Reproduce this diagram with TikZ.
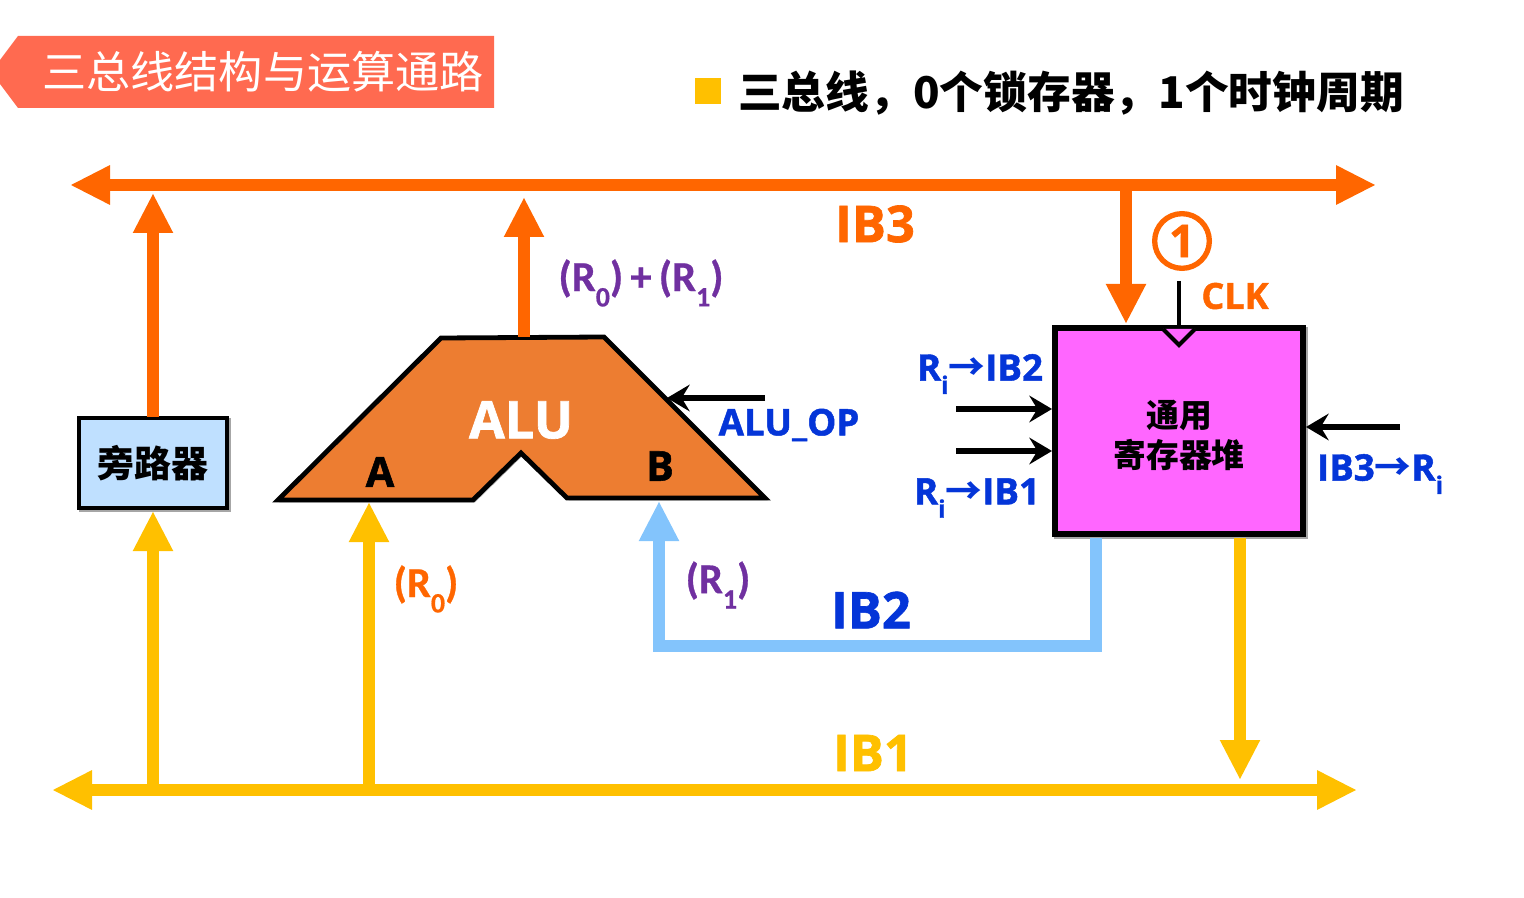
\documentclass[tikz,border=0pt]{standalone}
\usepackage{fontspec}
\usetikzlibrary{arrows.meta}
\setmainfont{Open Sans}[BoldFeatures={FakeBold=1.3}]
\newfontfamily\cjk{Noto Sans CJK SC}
\newfontfamily\carl{Carlito}[BoldFeatures={FakeBold=0.6}]
\newcommand{\cjkb}{\cjk\bfseries}
\newcommand{\osb}{\rmfamily\bfseries}
\newcommand{\ossb}{\carl\bfseries}
\newcommand{\arr}{{\cjk\bfseries →}}
\definecolor{cO}{HTML}{FF6600}
\definecolor{cY}{HTML}{FFC000}
\definecolor{cB}{HTML}{83C4FC}
\definecolor{cT}{HTML}{FF6A50}
\definecolor{cA}{HTML}{ED7D31}
\definecolor{cM}{HTML}{FF66FF}
\definecolor{cR}{HTML}{BFE0FF}
\definecolor{cN}{HTML}{0435D8}
\definecolor{cP}{HTML}{7030A0}
\newcommand{\Fs}[2]{\fontsize{#1}{#2}\selectfont}
\newcommand{\lo}[2]{\raisebox{-0.36em}{\Fs{#1}{#1}#2}}
\tikzset{
  x=0.75pt,y=-0.75pt,
  bus/.style={line width=9.5pt,draw=#1,{Triangle[length=30pt,width=27.5pt,fill=#1]}-{Triangle[length=30pt,width=27.5pt,fill=#1]}},
  wire/.style={line width=9pt,draw=#1,-{Triangle[length=30pt,width=28pt,fill=#1]}},
  sig/.style={line width=3.8pt,draw=black,-{Stealth[length=17pt,width=20pt,inset=6pt]}},
  shade/.style={preaction={draw=black!35,transform canvas={shift={(1.5pt,-1.5pt)}}}},
  outline/.style={draw=black,line width=3.6pt,line join=miter},
  lab/.style={inner sep=0pt,anchor=center},
}
\begin{document}
\begin{tikzpicture}
\useasboundingbox (0,0) rectangle (1524,898);
% title
\fill[cT] (0,60) -- (18,36) -- (494,36) -- (494,108) -- (18,108) -- (0,84) -- cycle;
\node[inner sep=0pt,text=white,font=\cjk\Fs{33.1pt}{36pt}] (title) at (263,72) {三总线结构与运算通路};
\node[fill=cY,minimum width=19pt,minimum height=19pt,inner sep=0pt] (bullet) at (708,91) {};
\node[lab,font=\cjkb\Fs{32.8pt}{36pt}] (head) at (1071,93) {三总线，0个锁存器，1个时钟周期};
% coordinates
\coordinate (b3L) at (70,185); \coordinate (b3R) at (1376,185);
\coordinate (b1L) at (52,790); \coordinate (b1R) at (1357,790);
% boxes
\node[draw=black,line width=3pt,fill=cR,shade,minimum width=111pt,minimum height=68pt,inner sep=0pt,font=\cjkb\Fs{27.7pt}{30pt}] (router) at (153,463) {旁路器};
\node[draw=black,line width=4.5pt,fill=cM,shade,minimum width=186pt,minimum height=155pt,inner sep=0pt,align=center,font=\cjkb\Fs{24.6pt}{30.5pt}] (regs) at (1179,431) {\rule{0pt}{27pt}通用\\寄存器堆};
% ALU
\path[fill=cA,outline,shade] (278,500) -- (441,338) -- (604,337) -- (765,498) -- (567,498) -- (521,453) -- (473,500) -- cycle;
\node[lab,text=white,font=\osb\Fs{39pt}{42pt}] (alu) at (521,420) {ALU};
\node[lab,font=\osb\Fs{31pt}{34pt}] (portA) at (380,472) {A};
\node[lab,font=\osb\Fs{31pt}{34pt}] (portB) at (660,466) {B};
\coordinate (aluTop) at (524,337); \coordinate (aluTopEnd) at (524,197);
\coordinate (aluOp) at (667,398); \coordinate (aluOpS) at (765,398);
\coordinate (inA) at (369,502); \coordinate (inB) at (659,501);
% buses
\draw[wire=cY] (153,790) -- (153,511);
\draw[wire=cO] (153,417) -- (153,193);
\draw[wire=cY] (369,790) -- (inA);
\draw[wire=cO] (aluTop) -- (aluTopEnd);
\draw[wire=cB,line join=miter] (1096,538) -- (1096,646) -- (659,646) -- (inB);
\draw[wire=cO] (1126,185) -- (1126,324);
\draw[wire=cY] (1240,538) -- (1240,780);
\draw[bus=cO] (b3L) -- (b3R);
\draw[bus=cY] (b1L) -- (b1R);
% signals
\draw[sig] (aluOpS) -- (aluOp);
\coordinate (s1) at (956,409); \coordinate (s2) at (956,451); \coordinate (s3) at (1400,427);
\draw[sig] (s1) -- (s1 -| regs.west);
\draw[sig] (s2) -- (s2 -| regs.west);
\draw[sig] (s3) -- (s3 -| regs.east);
% clock
\coordinate (clk) at (1179,281);
\draw[draw=black,line width=3pt] (clk) -- (1179,330);
\path[fill=cM,draw=black,line width=3pt] (1163,329) -- (1179,345) -- (1195,329);
\node[circle,draw=cO,line width=4pt,minimum size=41pt,inner sep=0pt,text=cO,font=\osb\Fs{34pt}{36pt}] (one) at (1182,241) {1};
\node[lab,text=cO,font=\osb\Fs{27pt}{30pt}] (clkl) at (1235,296) {CLK};
% labels
\node[lab,text=cO,font=\osb\Fs{38pt}{40pt}] (ib3) at (875,224) {IB3};
\node[lab,text=cN,font=\osb\Fs{38pt}{40pt}] (ib2) at (871,610) {IB2};
\node[lab,text=cY,font=\osb\Fs{38pt}{40pt}] (ib1) at (873,753) {IB1};
\node[lab,text=cN,font=\osb\Fs{27.5pt}{30pt}] (aluop) at (789,425) {ALU\_OP};
\node[lab,text=cN,font=\osb\Fs{27.5pt}{30pt}] (l1) at (980,374) {R\lo{18pt}{i}\arr IB2};
\node[lab,text=cN,font=\osb\Fs{27.5pt}{30pt}] (l2) at (977,498) {R\lo{18pt}{i}\arr IB1};
\node[lab,text=cN,font=\osb\Fs{27.5pt}{30pt}] (l3) at (1380,474) {IB3\arr R\lo{18pt}{i}};
\node[lab,text=cP,font=\ossb\Fs{32pt}{34pt}] (sum) at (641,283) {(R\lo{21pt}{0})\,+\,(R\lo{21pt}{1})};
\node[lab,text=cO,font=\ossb\Fs{32pt}{34pt}] (r0) at (426,589) {(R\lo{21pt}{0})};
\node[lab,text=cP,font=\ossb\Fs{32pt}{34pt}] (r1) at (718,585) {(R\lo{21pt}{1})};
\end{tikzpicture}
\end{document}
